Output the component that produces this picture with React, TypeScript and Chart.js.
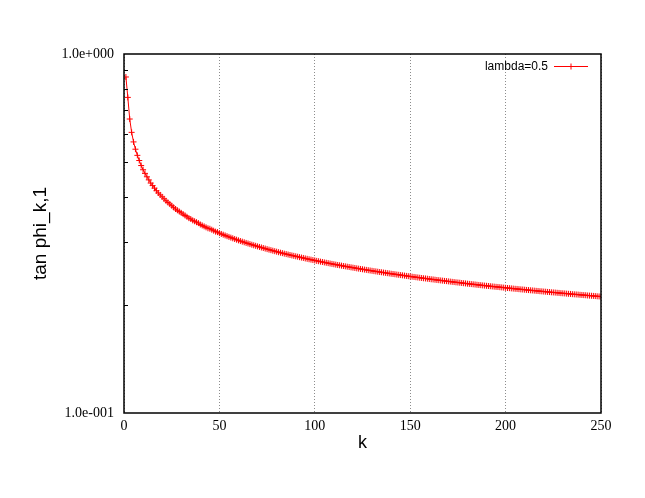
import React, { useEffect, useRef } from "react";
import { Chart, registerables } from "chart.js";

Chart.register(...registerables);

const seriesLabel = "lambda=0.5";
const kFirst = 1;
const tanPhi = [
  0.863, 0.757, 0.659, 0.605, 0.569, 0.543, 0.522, 0.505, 0.489, 0.476,
  0.465, 0.455, 0.446, 0.437, 0.430, 0.423, 0.416, 0.410, 0.405, 0.400,
  0.395, 0.390, 0.386, 0.382, 0.378, 0.374, 0.370, 0.367, 0.364, 0.361,
  0.358, 0.355, 0.352, 0.349, 0.347, 0.344, 0.342, 0.340, 0.338, 0.335,
  0.333, 0.331, 0.329, 0.327, 0.326, 0.324, 0.322, 0.320, 0.319, 0.317,
  0.3153, 0.3138, 0.3123, 0.3108, 0.3094, 0.3080, 0.3066, 0.3052, 0.3039, 0.3026,
  0.3013, 0.3001, 0.2989, 0.2977, 0.2966, 0.2954, 0.2943, 0.2932, 0.2922, 0.2911,
  0.2901, 0.2891, 0.2881, 0.2871, 0.2861, 0.2851, 0.2842, 0.2832, 0.2823, 0.2814,
  0.2805, 0.2796, 0.2788, 0.2779, 0.2771, 0.2763, 0.2755, 0.2747, 0.2740, 0.2732,
  0.2725, 0.2717, 0.2710, 0.2703, 0.2695, 0.2688, 0.2681, 0.2674, 0.2667, 0.2660,
  0.2653, 0.2647, 0.2640, 0.2634, 0.2627, 0.2621, 0.2615, 0.2608, 0.2602, 0.2596,
  0.2590, 0.2584, 0.2579, 0.2573, 0.2567, 0.2562, 0.2556, 0.2551, 0.2545, 0.2540,
  0.2535, 0.2529, 0.2524, 0.2519, 0.2514, 0.2509, 0.2504, 0.2499, 0.2494, 0.2489,
  0.2484, 0.2480, 0.2475, 0.2470, 0.2466, 0.2461, 0.2457, 0.2452, 0.2448, 0.2443,
  0.2439, 0.2435, 0.2430, 0.2426, 0.2422, 0.2418, 0.2414, 0.2409, 0.2405, 0.2401,
  0.2397, 0.2393, 0.2389, 0.2385, 0.2381, 0.2377, 0.2373, 0.2370, 0.2366, 0.2362,
  0.2358, 0.2355, 0.2351, 0.2347, 0.2344, 0.2340, 0.2337, 0.2333, 0.2330, 0.2326,
  0.2323, 0.2319, 0.2316, 0.2312, 0.2309, 0.2306, 0.2302, 0.2299, 0.2296, 0.2292,
  0.2289, 0.2286, 0.2283, 0.2280, 0.2276, 0.2273, 0.2270, 0.2267, 0.2264, 0.2261,
  0.2258, 0.2255, 0.2252, 0.2249, 0.2246, 0.2244, 0.2241, 0.2238, 0.2235, 0.2232,
  0.2229, 0.2227, 0.2224, 0.2221, 0.2218, 0.2216, 0.2213, 0.2210, 0.2208, 0.2205,
  0.2202, 0.2200, 0.2197, 0.2195, 0.2192, 0.2189, 0.2187, 0.2184, 0.2182, 0.2179,
  0.2177, 0.2174, 0.2172, 0.2169, 0.2167, 0.2165, 0.2162, 0.2160, 0.2157, 0.2155,
  0.2153, 0.2150, 0.2148, 0.2146, 0.2143, 0.2141, 0.2139, 0.2137, 0.2134, 0.2132,
  0.2130, 0.2128, 0.2125, 0.2123, 0.2121, 0.2119, 0.2117, 0.2114, 0.2112, 0.2110,
];
const kValues = tanPhi.map((_, i) => kFirst + i);

const xMin = 0;
const xMax = 250;
const xStep = 50;
const yMin = 0.1;
const yMax = 1.0;
const yTickValues = [0.1, 1.0];
const yTickLabels = ["1.0e-001", "1.0e+000"];
const yMinorTicks = [0.2, 0.3, 0.4, 0.5, 0.6, 0.7, 0.8, 0.9];
const xTitle = "k";
const yTitle = "tan phi_k,1";

const RED = "#ff0000";
const SANS = '"Liberation Sans", Arial, sans-serif';
const SERIF = '"Liberation Serif", "Times New Roman", serif';

const decorPlugin = {
  id: "gnuplotDecor",
  afterDatasetsDraw(chart: any) {
    const { ctx, chartArea: a, scales } = chart;
    const y = scales.y;
    ctx.save();
    // minor ticks (inside, left border)
    ctx.strokeStyle = "#000";
    ctx.lineWidth = 1;
    ctx.beginPath();
    for (const v of yMinorTicks) {
      const py = Math.round(y.getPixelForValue(v)) + 0.5;
      ctx.moveTo(a.left, py);
      ctx.lineTo(a.left + 4, py);
    }
    ctx.stroke();
    // frame
    ctx.lineWidth = 1.5;
    ctx.strokeStyle = "#000";
    ctx.strokeRect(a.left, a.top, a.right - a.left, a.bottom - a.top);
    // key
    const ly = a.top + 12.5;
    ctx.font = "12px " + SANS;
    ctx.fillStyle = "#000";
    ctx.textAlign = "right";
    ctx.textBaseline = "middle";
    ctx.fillText(chart.data.datasets[0].label, a.right - 53, ly);
    const x0 = a.right - 47;
    const x1 = a.right - 13;
    const xm = (x0 + x1) / 2;
    ctx.strokeStyle = RED;
    ctx.lineWidth = 1;
    ctx.beginPath();
    ctx.moveTo(x0, ly);
    ctx.lineTo(x1, ly);
    ctx.moveTo(xm, ly - 3);
    ctx.lineTo(xm, ly + 3);
    ctx.stroke();
    ctx.restore();
  },
};

export default function App() {
  const ref = useRef<HTMLCanvasElement | null>(null);

  useEffect(() => {
    const canvas = ref.current;
    if (!canvas) return;
    const chart = new Chart(canvas, {
      type: "line",
      data: {
        datasets: [
          {
            label: seriesLabel,
            data: kValues.map((k, i) => ({ x: k, y: tanPhi[i] })),
            borderColor: RED,
            backgroundColor: RED,
            borderWidth: 1,
            pointStyle: "cross",
            pointRadius: 3,
            pointBorderWidth: 1,
            pointBorderColor: RED,
            tension: 0,
            fill: false,
          },
        ],
      },
      options: {
        responsive: false,
        animation: false,
        layout: { padding: { left: 0, top: 54, right: 44, bottom: 0 } },
        plugins: {
          legend: { display: false },
          tooltip: { enabled: false },
        },
        scales: {
          x: {
            type: "linear",
            min: xMin,
            max: xMax,
            afterFit: (s: any) => {
              s.height = 85;
            },
            border: { display: false, dash: [1, 2] },
            grid: {
              color: "#8c8c8c",
              lineWidth: 1,
              drawTicks: false,
            },
            ticks: {
              stepSize: xStep,
              padding: 5,
              color: "#000",
              font: { family: SERIF, size: 14 },
              maxRotation: 0,
            },
            title: {
              display: true,
              text: xTitle,
              color: "#000",
              font: { family: SANS, size: 18 },
              padding: { top: 0, bottom: 44 },
            },
          },
          y: {
            type: "logarithmic",
            min: yMin,
            max: yMax,
            afterFit: (s: any) => {
              s.width = 124;
            },
            afterBuildTicks: (s: any) => {
              s.ticks = yTickValues.map((v) => ({ value: v }));
            },
            border: { display: false },
            grid: { display: false, drawTicks: false },
            ticks: {
              padding: 10,
              color: "#000",
              font: { family: SERIF, size: 14 },
              callback: (value: any) => {
                const i = yTickValues.findIndex((t) => Math.abs(t - Number(value)) < 1e-9);
                return i >= 0 ? yTickLabels[i] : "";
              },
            },
            title: {
              display: true,
              text: yTitle,
              color: "#000",
              font: { family: SANS, size: 19 },
              padding: { top: 29, bottom: 0 },
            },
          },
        },
      } as any,
      plugins: [decorPlugin],
    });
    return () => chart.destroy();
  }, []);

  return (
    <div style={{ position: "fixed", left: 0, top: 0, width: 645, height: 498, background: "#fff" }}>
      <canvas ref={ref} width={645} height={498} style={{ display: "block" }} />
    </div>
  );
}
